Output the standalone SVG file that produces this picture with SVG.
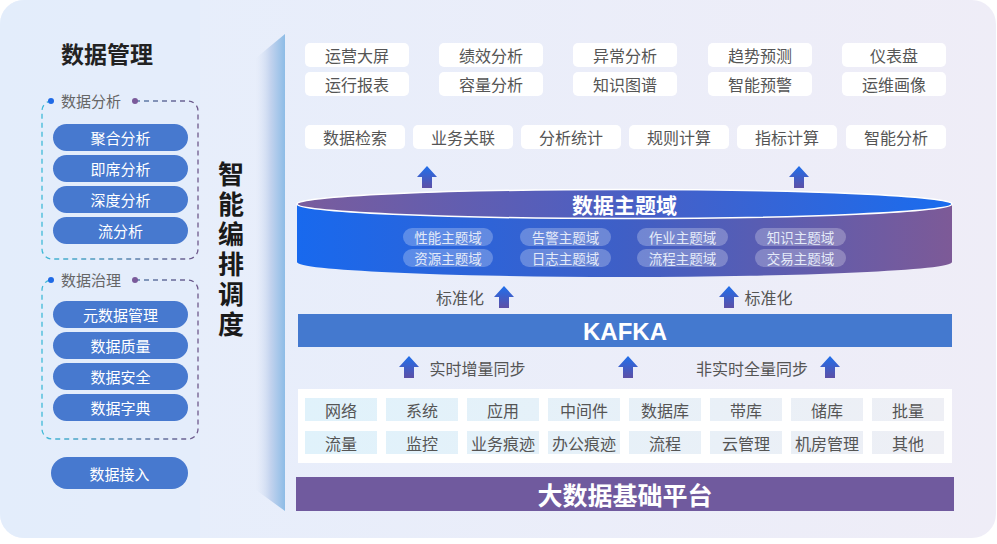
<svg xmlns="http://www.w3.org/2000/svg" width="997" height="544" viewBox="0 0 997 544">
<defs>
<linearGradient id="bg" x1="0" y1="0" x2="1" y2="0">
<stop offset="0" stop-color="#e5eefc"/>
<stop offset="1" stop-color="#efedf7"/>
</linearGradient>
<linearGradient id="wedge" x1="0" y1="0" x2="1" y2="0">
<stop offset="0" stop-color="#e6ecf9" stop-opacity="0.3"/>
<stop offset="0.5" stop-color="#c3d3ee"/>
<stop offset="1" stop-color="#8dbce6"/>
</linearGradient>
<linearGradient id="dash" x1="0" y1="0" x2="1" y2="0">
<stop offset="0" stop-color="#3fbad8"/>
<stop offset="1" stop-color="#6f5a8c"/>
</linearGradient>
<linearGradient id="arrowg" x1="0" y1="0" x2="0" y2="1">
<stop offset="0" stop-color="#1f6fec"/>
<stop offset="1" stop-color="#5d4fa6"/>
</linearGradient>
<linearGradient id="cylBody" x1="0" y1="0" x2="1" y2="0">
<stop offset="0" stop-color="#1869ee"/>
<stop offset="0.5" stop-color="#3f5fc6"/>
<stop offset="1" stop-color="#7d5a97"/>
</linearGradient>
<linearGradient id="cylTop" x1="0" y1="0" x2="1" y2="0">
<stop offset="0" stop-color="#7a5c9c"/>
<stop offset="0.5" stop-color="#4a5fc4"/>
<stop offset="1" stop-color="#1a6cee"/>
</linearGradient>
<linearGradient id="cell" gradientUnits="userSpaceOnUse" x1="305" y1="0" x2="944" y2="0">
<stop offset="0" stop-color="#e0f2fb"/>
<stop offset="1" stop-color="#eeeff5"/>
</linearGradient>
<path id="arr" d="M0,0 L10,11 L5,11 L5,22 L-5,22 L-5,11 L-10,11 Z"/>
<style>
text{font-family:"Noto Sans CJK SC","Noto Sans",sans-serif;dominant-baseline:central;text-anchor:middle}
.pill{fill:#4779cf}
.pt{fill:#ffffff;font-size:15px}
.lbl{fill:#666666;font-size:15px;text-anchor:start}
.box{fill:#ffffff}
.bt{fill:#555555;font-size:16px}
.cp{fill:#ffffff;fill-opacity:0.25}
.ct{fill:#e4eaf8;font-size:13.5px}
.cellr{fill:url(#cell)}
.big{fill:#ffffff;font-weight:bold}
.gray{fill:#555555;font-size:16px}
.ar{fill:url(#arrowg)}
.dbox{fill:none;stroke:url(#dash);stroke-width:1.3;stroke-dasharray:5 4}
.vt{font-size:26px;font-weight:bold;fill:#1a1a1a;writing-mode:vertical-rl;letter-spacing:4px}
</style>
</defs>

<rect x="0" y="0" width="996" height="538" rx="24" fill="url(#bg)"/>
<path d="M24,0 H200 V538 H24 A24,24 0 0 1 0,514 V24 A24,24 0 0 1 24,0 Z" fill="#e3edfb" opacity="0.7"/>

<g id="title">
<text x="107" y="53" style="font-size:23px;font-weight:bold;fill:#222222">数据管理</text>
</g>

<g id="group-analysis">
<path class="dbox" d="M135,101 H188 A10,10 0 0 1 198,111 V249 A10,10 0 0 1 188,259 H52 A10,10 0 0 1 42,249 V111 A10,10 0 0 1 51,101"/>
<circle cx="51" cy="101" r="3" fill="#1f6ae6"/>
<circle cx="135" cy="101" r="3" fill="#7a5a9a"/>
<text class="lbl" x="61" y="100">数据分析</text>
<rect class="pill" x="53" y="124" width="135" height="27" rx="13.5"/><text class="pt" x="120.5" y="137.5">聚合分析</text>
<rect class="pill" x="53" y="155" width="135" height="27" rx="13.5"/><text class="pt" x="120.5" y="168.5">即席分析</text>
<rect class="pill" x="53" y="186" width="135" height="27" rx="13.5"/><text class="pt" x="120.5" y="199.5">深度分析</text>
<rect class="pill" x="53" y="217" width="135" height="27" rx="13.5"/><text class="pt" x="120.5" y="230.5">流分析</text>
</g>

<g id="group-governance">
<path class="dbox" d="M135,280 H188 A10,10 0 0 1 198,290 V429 A10,10 0 0 1 188,439 H52 A10,10 0 0 1 42,429 V290 A10,10 0 0 1 51,280"/>
<circle cx="51" cy="280" r="3" fill="#1f6ae6"/>
<circle cx="135" cy="280" r="3" fill="#7a5a9a"/>
<text class="lbl" x="61" y="279">数据治理</text>
<rect class="pill" x="53" y="301" width="135" height="27" rx="13.5"/><text class="pt" x="120.5" y="314.5">元数据管理</text>
<rect class="pill" x="53" y="332" width="135" height="27" rx="13.5"/><text class="pt" x="120.5" y="345.5">数据质量</text>
<rect class="pill" x="53" y="363" width="135" height="27" rx="13.5"/><text class="pt" x="120.5" y="376.5">数据安全</text>
<rect class="pill" x="53" y="394" width="135" height="27" rx="13.5"/><text class="pt" x="120.5" y="407.5">数据字典</text>
</g>

<g id="data-access">
<rect class="pill" x="51" y="457" width="137" height="32" rx="16"/><text class="pt" x="119.5" y="473">数据接入</text>
</g>

<g id="orchestration">
<text class="vt" x="231" y="251">智能编排调度</text>
<polygon points="285,34 256,58 256,490 285,511" fill="url(#wedge)"/>
</g>

<g id="apps">
<rect class="box" x="305" y="43" width="104" height="24" rx="5"/><text class="bt" x="357" y="55">运营大屏</text>
<rect class="box" x="439" y="43" width="104" height="24" rx="5"/><text class="bt" x="491" y="55">绩效分析</text>
<rect class="box" x="573" y="43" width="104" height="24" rx="5"/><text class="bt" x="625" y="55">异常分析</text>
<rect class="box" x="708" y="43" width="104" height="24" rx="5"/><text class="bt" x="760" y="55">趋势预测</text>
<rect class="box" x="842" y="43" width="104" height="24" rx="5"/><text class="bt" x="894" y="55">仪表盘</text>
<rect class="box" x="305" y="72" width="104" height="24" rx="5"/><text class="bt" x="357" y="84">运行报表</text>
<rect class="box" x="439" y="72" width="104" height="24" rx="5"/><text class="bt" x="491" y="84">容量分析</text>
<rect class="box" x="573" y="72" width="104" height="24" rx="5"/><text class="bt" x="625" y="84">知识图谱</text>
<rect class="box" x="708" y="72" width="104" height="24" rx="5"/><text class="bt" x="760" y="84">智能预警</text>
<rect class="box" x="842" y="72" width="104" height="24" rx="5"/><text class="bt" x="894" y="84">运维画像</text>
</g>

<g id="services">
<rect class="box" x="305" y="125" width="100" height="24" rx="5"/><text class="bt" x="355" y="137">数据检索</text>
<rect class="box" x="413" y="125" width="100" height="24" rx="5"/><text class="bt" x="463" y="137">业务关联</text>
<rect class="box" x="521" y="125" width="100" height="24" rx="5"/><text class="bt" x="571" y="137">分析统计</text>
<rect class="box" x="629" y="125" width="100" height="24" rx="5"/><text class="bt" x="679" y="137">规则计算</text>
<rect class="box" x="737" y="125" width="100" height="24" rx="5"/><text class="bt" x="787" y="137">指标计算</text>
<rect class="box" x="846" y="125" width="100" height="24" rx="5"/><text class="bt" x="896" y="137">智能分析</text>
</g>

<g id="topic-domain">
<path d="M297,204 L297,262 A327.5,15 0 0 0 952,262 L952,204 Z" fill="url(#cylBody)"/>
<ellipse cx="624.5" cy="204" rx="327.5" ry="14.5" fill="url(#cylTop)" stroke="#ffffff" stroke-width="1.5"/>
<text class="big" x="624.5" y="204" style="font-size:21px">数据主题域</text>
<rect class="cp" x="403" y="228" width="90" height="18" rx="9"/><text class="ct" x="448" y="237">性能主题域</text>
<rect class="cp" x="520" y="228" width="91" height="18" rx="9"/><text class="ct" x="565.5" y="237">告警主题域</text>
<rect class="cp" x="637" y="228" width="91" height="18" rx="9"/><text class="ct" x="682.5" y="237">作业主题域</text>
<rect class="cp" x="755" y="228" width="91" height="18" rx="9"/><text class="ct" x="800.5" y="237">知识主题域</text>
<rect class="cp" x="403" y="249" width="90" height="18" rx="9"/><text class="ct" x="448" y="258">资源主题域</text>
<rect class="cp" x="520" y="249" width="91" height="18" rx="9"/><text class="ct" x="565.5" y="258">日志主题域</text>
<rect class="cp" x="637" y="249" width="91" height="18" rx="9"/><text class="ct" x="682.5" y="258">流程主题域</text>
<rect class="cp" x="755" y="249" width="91" height="18" rx="9"/><text class="ct" x="800.5" y="258">交易主题域</text>
</g>

<g id="kafka">
<rect x="298" y="314" width="654" height="33" fill="#4479cf"/>
<text class="big" x="625" y="331" style="font-size:24px;font-family:'Liberation Sans','Noto Sans',sans-serif">KAFKA</text>
</g>

<g id="sources">
<rect x="298" y="389" width="654" height="74" fill="#ffffff"/>
<rect class="cellr" x="305" y="398" width="72" height="23"/><text class="bt" x="341" y="409.5">网络</text>
<rect class="cellr" x="386" y="398" width="72" height="23"/><text class="bt" x="422" y="409.5">系统</text>
<rect class="cellr" x="467" y="398" width="72" height="23"/><text class="bt" x="503" y="409.5">应用</text>
<rect class="cellr" x="548" y="398" width="72" height="23"/><text class="bt" x="584" y="409.5">中间件</text>
<rect class="cellr" x="629" y="398" width="72" height="23"/><text class="bt" x="665" y="409.5">数据库</text>
<rect class="cellr" x="710" y="398" width="72" height="23"/><text class="bt" x="746" y="409.5">带库</text>
<rect class="cellr" x="791" y="398" width="72" height="23"/><text class="bt" x="827" y="409.5">储库</text>
<rect class="cellr" x="872" y="398" width="72" height="23"/><text class="bt" x="908" y="409.5">批量</text>
<rect class="cellr" x="305" y="431" width="72" height="23"/><text class="bt" x="341" y="442.5">流量</text>
<rect class="cellr" x="386" y="431" width="72" height="23"/><text class="bt" x="422" y="442.5">监控</text>
<rect class="cellr" x="467" y="431" width="72" height="23"/><text class="bt" x="503" y="442.5">业务痕迹</text>
<rect class="cellr" x="548" y="431" width="72" height="23"/><text class="bt" x="584" y="442.5">办公痕迹</text>
<rect class="cellr" x="629" y="431" width="72" height="23"/><text class="bt" x="665" y="442.5">流程</text>
<rect class="cellr" x="710" y="431" width="72" height="23"/><text class="bt" x="746" y="442.5">云管理</text>
<rect class="cellr" x="791" y="431" width="72" height="23"/><text class="bt" x="827" y="442.5">机房管理</text>
<rect class="cellr" x="872" y="431" width="72" height="23"/><text class="bt" x="908" y="442.5">其他</text>
</g>

<g id="platform">
<rect x="296" y="477" width="658" height="34" fill="#705a9e"/>
<text class="big" x="625" y="494" style="font-size:25px">大数据基础平台</text>
</g>

<g id="connectors">
<use href="#arr" class="ar" x="427" y="166"/>
<use href="#arr" class="ar" x="799" y="166"/>
<use href="#arr" class="ar" x="504" y="286"/>
<use href="#arr" class="ar" x="729" y="286"/>
<use href="#arr" class="ar" x="409" y="356"/>
<use href="#arr" class="ar" x="628" y="356"/>
<use href="#arr" class="ar" x="830" y="356"/>
<text class="gray" x="460" y="297">标准化</text>
<text class="gray" x="768.5" y="297">标准化</text>
<text class="gray" x="477.5" y="368">实时增量同步</text>
<text class="gray" x="752" y="368">非实时全量同步</text>
</g>
</svg>
